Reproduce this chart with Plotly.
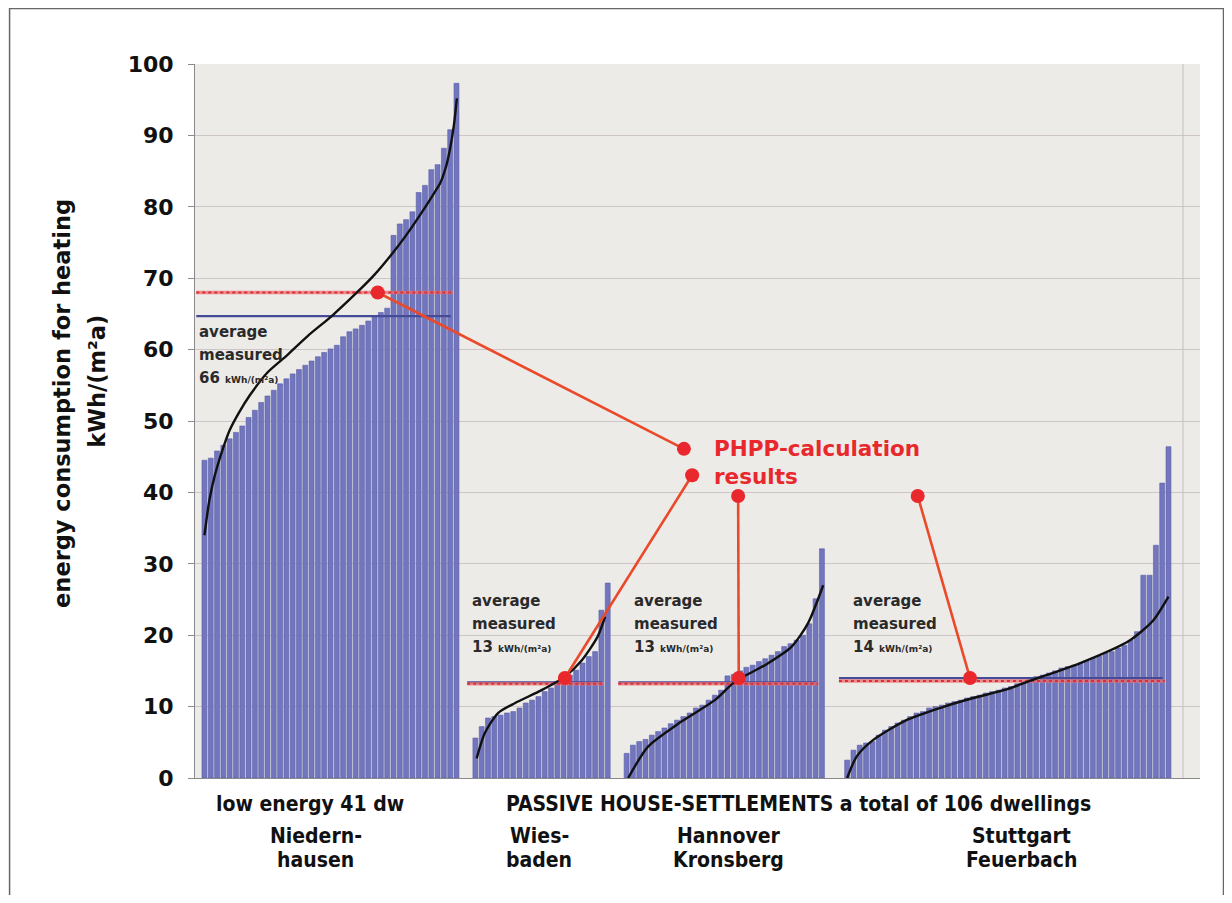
import numpy as np
import plotly.graph_objects as go

# ---------------- data ----------------
niedernhausen = [44.5, 44.8, 45.8, 46.6, 47.5, 48.4, 49.3, 50.5, 51.5, 52.6,
                 53.5, 54.3, 55.2, 55.9, 56.6, 57.2, 57.8, 58.4, 59.0, 59.6,
                 60.1, 60.6, 61.8, 62.5, 62.9, 63.4, 64.0, 64.6, 65.2, 65.8,
                 76.0, 77.6, 78.2, 79.3, 82.0, 83.0, 85.2, 85.9, 88.2, 90.8, 97.3]
wiesbaden = [5.6, 7.2, 8.4, 8.6, 8.8, 9.1, 9.3, 9.8, 10.5, 10.9, 11.4,
             12.1, 12.6, 13.3, 13.7, 14.4, 15.1, 16.1, 17.0, 17.7, 23.5, 27.3]
hannover = [3.45, 4.6, 5.1, 5.4, 6.0, 6.5, 7.0, 7.6, 8.1, 8.6,
            9.1, 9.8, 10.2, 10.9, 11.6, 12.3, 14.3, 14.5, 15.0, 15.5,
            15.8, 16.3, 16.7, 17.2, 17.7, 18.4, 18.8, 19.3, 20.0, 21.6,
            25.1, 32.1]
stuttgart = [2.5, 3.9, 4.6, 4.9, 5.1, 6.0, 6.7, 7.2, 7.7, 8.1,
             8.6, 9.1, 9.3, 9.8, 10.0, 10.2, 10.5, 10.7, 10.9, 11.2,
             11.4, 11.6, 11.9, 12.1, 12.3, 12.6, 12.8, 13.2, 13.5, 13.8,
             14.2, 14.4, 14.7, 15.0, 15.4, 15.6, 15.8, 16.1, 16.4, 16.8,
             17.1, 17.5, 17.7, 18.2, 18.6, 19.3, 20.5, 28.4, 28.4, 32.6,
             41.3, 46.4]

# trend curves (bar index within group, value)
trend_n_idx = [0, 0.8, 1.65, 3.0, 4.0, 5.5, 7.2, 10.0, 13.1, 16.5, 20.2, 24.2,
               27.0, 29.4, 32.0, 34.7, 36.5, 37.4, 38.3, 38.95, 39.6, 40.06]
trend_n_val = [34, 39, 42.4, 46.3, 48.7, 51.2, 53.6, 56.8, 59.2, 62.0, 64.7, 68.0,
               70.5, 73.0, 76.0, 79.5, 82.0, 83.3, 85.5, 88.0, 91.5, 95.2]
trend_w_idx = [0.2, 1.5, 3.6, 6.3, 10.5, 14.2, 16.9, 19.4, 20.6]
trend_w_val = [2.75, 6.3, 9.1, 10.5, 12.3, 14.2, 16.5, 19.8, 22.6]
trend_h_idx = [0.25, 3.4, 8.7, 14.0, 17.2, 21.95, 26.2, 28.8, 31.2]
trend_h_val = [0, 4.4, 7.9, 10.9, 13.5, 15.8, 18.4, 21.7, 27.0]
trend_s_idx = [0, 1.5, 4.1, 9.4, 14.7, 20.0, 25.3, 29.0, 37.0, 44.9, 48.6, 51.0]
trend_s_val = [0, 3.0, 5.3, 8.1, 9.8, 11.2, 12.4, 13.6, 16.1, 19.3, 22.1, 25.4]

avg_measured = [64.7, 13.4, 13.4, 14.0]        # blue lines
phpp_result = [68.0, 13.2, 13.2, 13.6]         # red lines
avg_labels = ["66", "13", "13", "14"]
phpp_dot_idx = [27.5, 14.2, 17.8, 19.5]        # where the PHPP dot sits on each group
phpp_dot_val = [68.0, 14.0, 14.0, 14.0]
label_pt_x = [78.1, 79.4, 86.7, 115.2]         # axis units of the label-side dots
label_pt_val = [46.1, 42.4, 39.5, 39.5]

yticks = list(range(0, 101, 10))

groups = [niedernhausen, wiesbaden, hannover, stuttgart]
trends = [(trend_n_idx, trend_n_val), (trend_w_idx, trend_w_val),
          (trend_h_idx, trend_h_val), (trend_s_idx, trend_s_val)]

# ---------------- layout constants ----------------
group_start = [2, 45, 69, 104]      # slot of first bar of each group
BAR = "#7276be"
BAR_EDGE = "#585ca6"
BLUE_LINE = "#464b98"
RED = "#e8282c"
RED_LINE = "#ea4a2a"
FONT = "DejaVu Sans"
NARROW = "DejaVu Sans Condensed, Roboto, sans-serif"

fig = go.Figure()

for vals, s in zip(groups, group_start):
    x = s + np.arange(len(vals))
    fig.add_trace(go.Bar(x=x, y=vals, width=0.78, marker=dict(color=BAR, line=dict(color=BAR_EDGE, width=0.6)),
                         showlegend=False, hoverinfo="skip"))

# average / PHPP horizontal lines
for vals, s, a, p in zip(groups, group_start, avg_measured, phpp_result):
    x0, x1 = s - 1.3, s + len(vals) - 1.9
    fig.add_trace(go.Scatter(x=[x0, x1], y=[a, a], mode="lines", line=dict(color=BLUE_LINE, width=2.2),
                             showlegend=False, hoverinfo="skip"))
    fig.add_trace(go.Scatter(x=[x0, x1 + 0.3], y=[p, p], mode="lines",
                             line=dict(color="rgba(235,110,110,0.75)", width=3.5),
                             showlegend=False, hoverinfo="skip"))
    fig.add_trace(go.Scatter(x=[x0, x1 + 0.3], y=[p, p], mode="lines",
                             line=dict(color="#d8303a", width=2, dash="dot"),
                             showlegend=False, hoverinfo="skip"))

# trend curves
for (ti, tv), s in zip(trends, group_start):
    fig.add_trace(go.Scatter(x=[s + i for i in ti], y=tv, mode="lines",
                             line=dict(color="#111111", width=2.4, shape="spline", smoothing=0.7),
                             showlegend=False, hoverinfo="skip"))

# connectors from PHPP label to each group
for k, s in enumerate(group_start):
    fig.add_trace(go.Scatter(x=[s + phpp_dot_idx[k], label_pt_x[k]], y=[phpp_dot_val[k], label_pt_val[k]],
                             mode="lines+markers", line=dict(color=RED_LINE, width=2.6),
                             marker=dict(color=RED, size=14), showlegend=False, hoverinfo="skip"))

annotations = []
# "average measured" labels
avg_text_y = [(62.5, 59.2, 56.0), (24.8, 21.6, 18.3), (24.8, 21.6, 18.3), (24.8, 21.6, 18.3)]
avg_text_dx = [-1.2, -0.9, 0.8, 0.6]
for k, s in enumerate(group_start):
    ys = avg_text_y[k]
    xx = s + avg_text_dx[k]
    for txt, yy in zip(["average", "measured",
                        f"{avg_labels[k]} <span style='font-size:9px'>kWh/(m²a)</span>"], ys):
        annotations.append(dict(x=xx, y=yy, xref="x", yref="y", text=txt, showarrow=False,
                                xanchor="left", yanchor="middle",
                                font=dict(family=FONT, size=15, color="#2a2a2a", weight="bold")))

# PHPP label
annotations.append(dict(x=82.5, y=46.1, xref="x", yref="y", text="PHPP-calculation", showarrow=False,
                        xanchor="left", yanchor="middle", font=dict(family=FONT, size=21.5, color=RED, weight="bold")))
annotations.append(dict(x=82.5, y=42.2, xref="x", yref="y", text="results", showarrow=False,
                        xanchor="left", yanchor="middle", font=dict(family=FONT, size=21.5, color=RED, weight="bold")))

# bottom labels
bottom = [("low energy 41 dw", 18.7, -0.0364), ("PASSIVE HOUSE-SETTLEMENTS a total of 106 dwellings", 96.2, -0.0364),
          ("Niedern-", 19.7, -0.0812), ("hausen", 19.7, -0.115),
          ("Wies-", 55.1, -0.0812), ("baden", 55.1, -0.115),
          ("Hannover", 85.2, -0.0812), ("Kronsberg", 85.2, -0.115),
          ("Stuttgart", 131.7, -0.0812), ("Feuerbach", 131.7, -0.115)]
for txt, xx, yy in bottom:
    annotations.append(dict(x=xx, y=yy, xref="x", yref="paper", text=txt, showarrow=False,
                            xanchor="center", yanchor="middle",
                            font=dict(family=NARROW, size=21, color="#111111", weight="bold")))

# y-axis title (two rotated lines)
annotations.append(dict(x=-0.1323, y=0.524, xref="paper", yref="paper",
                        text="energy consumption for heating", textangle=-90, showarrow=False,
                        xanchor="center", yanchor="middle",
                        font=dict(family=FONT, size=22.5, color="#111111", weight="bold")))
annotations.append(dict(x=-0.0975, y=0.555, xref="paper", yref="paper",
                        text="kWh/(m²a)", textangle=-90, showarrow=False,
                        xanchor="center", yanchor="middle",
                        font=dict(family=FONT, size=22.5, color="#111111", weight="bold")))

shapes = [
    # outer frame (top, left, right)
    dict(type="path", xref="paper", yref="paper",
         path="M -0.1845 -0.2 L -0.1845 1.0777 L 1.0234 1.0777 L 1.0234 -0.2",
         line=dict(color="#666666", width=1.5)),
    # inner right border of chart
    dict(type="line", xref="x", yref="paper", x0=157.3, x1=157.3, y0=0, y1=1,
         line=dict(color="#c4bfbf", width=1)),
]

fig.update_layout(
    width=1216, height=887,
    margin=dict(l=187, r=24, t=56, b=117),
    paper_bgcolor="white", plot_bgcolor="#edebe8",
    barmode="overlay",
    annotations=annotations, shapes=shapes,
    xaxis=dict(range=[0.5, 160], showgrid=False, showticklabels=False, zeroline=False,
               showline=True, linecolor="#8a8a8a", linewidth=1, ticks=""),
    yaxis=dict(range=[0, 100], tickvals=yticks, showgrid=True, gridcolor="#cdc5c8", gridwidth=1,
               zeroline=False, showline=True, linecolor="#8a8a8a", linewidth=1,
               ticks="outside", ticklen=6, tickcolor="#8a8a8a", ticklabelstandoff=10,
               tickfont=dict(family=FONT, size=22, color="#111111", weight="bold")),
)

fig.write_html("out.html")
